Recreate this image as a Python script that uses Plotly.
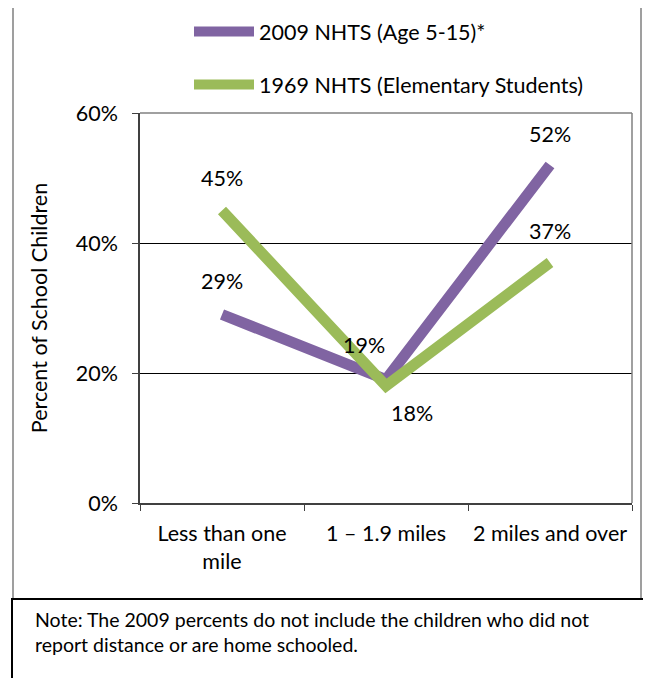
import plotly.graph_objects as go

categories = ["Less than one<br>mile", "1 – 1.9 miles", "2 miles and over"]
series_names = ["2009 NHTS (Age 5-15)*", "1969 NHTS (Elementary Students)"]
values_2009 = [29, 19, 52]
values_1969 = [45, 18, 37]
label_shift_2009 = [(0, 34), (-22, 35), (0, 31)]
label_shift_1969 = [(0, 33), (26, -27), (0, 32)]
y_ticks = [0, 20, 40, 60]
note_text = ("Note: The 2009 percents do not include the children who did not<br>"
             "report distance or are home schooled.")

PURPLE = "#8064A2"
GREEN = "#9BBB59"
FONT = "Lato"
FS = 21.5

OFF = 8  # page body margin
W, H = 651 - OFF, 678 - OFF
L, R, T, B = 140 - OFF, 632 - OFF, 113 - OFF, 503 - OFF


def px(xp):
    return (xp - OFF - L) / (R - L)


def py(yp):
    return (B - (yp - OFF)) / (B - T)


fig = go.Figure()
fig.add_trace(go.Scatter(x=categories, y=values_2009, mode="lines", name=series_names[0],
                         line=dict(color=PURPLE, width=11), legendgroup="a"))
fig.add_trace(go.Scatter(x=categories, y=values_1969, mode="lines", name=series_names[1],
                         line=dict(color=GREEN, width=11), legendgroup="b"))

annotations = []
for vals, shifts in ((values_2009, label_shift_2009), (values_1969, label_shift_1969)):
    for c, v, (dx, dy) in zip(categories, vals, shifts):
        annotations.append(dict(x=c, y=v, xref="x", yref="y", text=f"{v}%", showarrow=False,
                                xshift=dx, yshift=dy, font=dict(family=FONT, size=FS, color="black")))

annotations.append(dict(x=px(33), y=py(606), xref="paper", yref="paper", text=note_text,
                        showarrow=False, xanchor="left", yanchor="top", align="left",
                        font=dict(family=FONT, size=19.5, color="black")))

shapes = [
    # outer chart border
    dict(type="rect", xref="paper", yref="paper", x0=px(13), x1=px(641), y0=py(600), y1=py(7),
         line=dict(color="#808080", width=1.5), layer="below"),
    # plot area border top/right
    dict(type="line", xref="paper", yref="paper", x0=0, x1=1, y0=1, y1=1,
         line=dict(color="#808080", width=1.5)),
    dict(type="line", xref="paper", yref="paper", x0=1, x1=1, y0=0, y1=1,
         line=dict(color="#808080", width=1.5)),
    # note box
    dict(type="rect", xref="paper", yref="paper", x0=px(12), x1=px(648), y0=py(690), y1=py(599),
         line=dict(color="black", width=2), fillcolor="white"),
]

fig.update_layout(
    width=W, height=H,
    margin=dict(l=L, r=W - R, t=T, b=H - B, autoexpand=False),
    paper_bgcolor="white", plot_bgcolor="white",
    font=dict(family=FONT, size=FS, color="black"),
    showlegend=True,
    legend=dict(x=px(189), y=py(11), xanchor="left", yanchor="top", orientation="v",
                tracegroupgap=22, itemwidth=60, font=dict(family=FONT, size=FS),
                bgcolor="rgba(0,0,0,0)"),
    xaxis=dict(type="category", range=[-0.5, 2.5], showline=True, linecolor="#404040", linewidth=1.5,
               ticks="outside", tickson="boundaries", ticklen=6, tickcolor="#404040",
               ticklabelstandoff=10,
               showgrid=False, tickfont=dict(family=FONT, size=FS), fixedrange=True),
    yaxis=dict(range=[0, 60], tickvals=y_ticks, ticktext=[f"{t}%" for t in y_ticks],
               showline=True, linecolor="#404040", linewidth=1.5, ticks="outside", ticklen=6,
               tickcolor="#404040", showgrid=True, gridcolor="black", gridwidth=1,
               ticklabelstandoff=10,
               zeroline=False, title=dict(text="Percent of School Children", standoff=22,
                                          font=dict(family=FONT, size=FS)),
               tickfont=dict(family=FONT, size=FS), fixedrange=True),
    annotations=annotations,
    shapes=shapes,
)

fig.write_html("out.html")
